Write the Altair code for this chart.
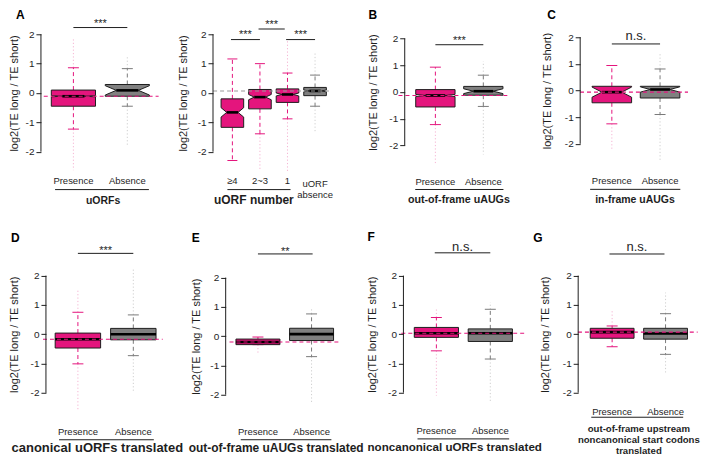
import altair as alt
import pandas as pd

FONT = "Liberation Sans"
PINK = "#E4157D"
GRAY = "#808080"
INK = "#1E1E1E"

# ----------------------------- data -----------------------------
panel_ids = ["A1", "A2", "B", "C", "D", "E", "F", "G"]
panel_letter = ["A", "", "B", "C", "D", "E", "F", "G"]
group_titles = ["uORFs", "uORF number", "out-of-frame uAUGs", "in-frame uAUGs",
                "canonical uORFs translated", "out-of-frame uAUGs translated",
                "noncanonical uORFs translated",
                "out-of-frame upstream\nnoncanonical start codons\ntranslated"]
labels_presence_absence = ["Presence", "Absence"]
labels_uorf_number = ["\u22654", "2~3", "1", "uORF\nabsence"]
ref_line_y = [-0.11, 0.07, -0.13, -0.06, -0.17, -0.20, 0.03, 0.07]

box_panel = ["A1", "A1", "A2", "A2", "A2", "A2", "B", "B", "C", "C",
             "D", "D", "E", "E", "F", "F", "G", "G"]
box_pos = [1, 2, 1, 2, 3, 4, 1, 2, 1, 2, 1, 2, 1, 2, 1, 2, 1, 2]
box_kind = ["presence", "absence", "presence", "presence", "presence", "absence",
            "presence", "absence", "presence", "absence", "presence", "absence",
            "presence", "absence", "presence", "absence", "presence", "absence"]
box_q1 = [-0.45, -0.11, -1.17, -0.54, -0.32, -0.09, -0.56, -0.12, -0.46, -0.28,
          -0.47, -0.19, -0.29, -0.15, -0.11, -0.25, -0.14, -0.17]
box_med = [-0.11, 0.09, -0.66, -0.14, -0.05, 0.07, -0.13, 0.03, -0.06, 0.04,
           -0.17, 0.00, -0.20, 0.07, 0.03, 0.03, 0.07, 0.02]
box_q3 = [0.10, 0.29, -0.20, 0.12, 0.14, 0.19, 0.09, 0.21, 0.16, 0.16,
          0.04, 0.20, -0.10, 0.27, 0.23, 0.18, 0.20, 0.20]
whisker_lo = [-1.23, -0.45, -2.30, -1.39, -0.88, -0.45, -1.22, -0.54, -1.25, -0.90,
              -1.01, -0.73, -0.29, -0.70, -0.57, -0.85, -0.43, -0.69]
whisker_hi = [0.86, 0.83, 1.16, 1.00, 0.68, 0.61, 0.93, 0.63, 0.94, 0.81,
              0.75, 0.66, -0.03, 0.76, 0.57, 0.85, 0.28, 0.70]
outlier_lo = [-2.63, -1.80, -2.30, -2.66, -2.66, -1.30, -2.66, -2.34, -2.27, -2.65,
              -2.60, -1.95, -0.60, -2.30, -2.10, -2.30, -0.43, -1.31]
outlier_hi = [1.85, 1.25, 1.16, 1.00, 1.82, 1.42, 0.93, 1.15, 0.94, 1.41,
              1.49, 2.22, -0.03, 0.99, 0.89, 1.09, 0.85, 1.42]
box_notch = [0.02, 0.16, 0.16, 0.09, 0.05, 0.03, 0.04, 0.09, 0.19, 0.10,
             0, 0, 0, 0, 0, 0, 0, 0]

sig_panel = ["A1", "A2", "A2", "A2", "B", "C", "D", "E", "F", "G"]
sig_from = [1.0, 0.95, 1.95, 2.95, 1.0, 1.0, 1.0, 1.0, 0.97, 0.95]
sig_to = [2.0, 2.0, 2.9, 4.0, 2.0, 2.0, 2.0, 2.02, 2.0, 1.98]
sig_label = ["***", "***", "***", "***", "***", "n.s.", "***", "**", "n.s.", "n.s."]

# ----------------------------- layout / style -----------------------------
ROW_TOP = [3, 233]
ROW_H = [222, 224]
BOX_HW = 0.41
KIND_FILL = {"presence": PINK, "absence": GRAY}
KIND_LINE = {"presence": PINK, "absence": "#7A7A7A"}
KIND_OUT = {"presence": "#F29CC4", "absence": "#BEBEBE"}

LAYOUT = {
    "A1": dict(row=0, left=3, w=167, c1=67.5, ux=54.0, axis=35.0, r2=28.0, uy=29.4, title_dx=26, cap=11,
               lab_y=-3.0, line_y=-3.29, line_x=(0.66, 2.40), title_y=-3.68, title_x=1.55, title_size=10.5,
               sig_y=[2.23], star_y=[2.34], letter_xy=(-0.065, 2.81), ref_x=(0.45, 2.58), ref_color=PINK),
    "A2": dict(row=0, left=170, w=180, c1=226.7, ux=27.6, axis=207.3, r2=28.0, uy=29.4, title_dx=30, cap=10,
               lab_y=-3.01, line_y=-3.29, line_x=(0.82, 3.11), title_y=-3.66, title_x=1.78, title_size=12,
               sig_y=[1.82, 2.18, 1.82], star_y=[1.96, 2.31, 1.96], letter_xy=None, ref_x=(0.3, 4.55),
               ref_color="#9A9A9A", lab4_y=-3.10),
    "B": dict(row=0, left=350, w=178, c1=430.0, ux=48.0, axis=399.3, r2=32.3, uy=26.75, title_dx=31, cap=11,
              lab_y=-3.36, line_y=-3.65, line_x=(0.58, 2.42), title_y=-4.06, title_x=1.49, title_size=10.7,
              sig_y=[1.77], star_y=[1.91], letter_xy=(-0.396, 3.08), ref_x=(0.23, 2.52), ref_color=PINK),
    "C": dict(row=0, left=528, w=168, c1=606.7, ux=48.3, axis=575.0, r2=31.0, uy=26.67, title_dx=32.5, cap=11,
              lab_y=-3.4, line_y=-3.71, line_x=(0.55, 2.42), title_y=-4.115, title_x=1.48, title_size=10.5,
              sig_y=[1.75], star_y=[2.04], letter_xy=(-0.34, 3.01), ref_x=(0.34, 2.58), ref_color=PINK),
    "D": dict(row=1, left=3, w=177, c1=72.0, ux=55.5, axis=40.0, r2=276.7, uy=29.35, title_dx=31, cap=11,
              lab_y=-3.34, line_y=-3.6, line_x=(0.66, 2.37), title_y=-3.89, title_x=1.35, title_size=13,
              sig_y=[2.76], star_y=[2.84], letter_xy=(-0.207, 3.465), ref_x=(0.37, 2.53), ref_color=PINK),
    "E": dict(row=1, left=181, w=179, c1=253.3, ux=53.7, axis=221.0, r2=278.7, uy=29.3, title_dx=29, cap=11,
              lab_y=-3.28, line_y=-3.54, line_x=(0.68, 2.37), title_y=-3.83, title_x=1.34, title_size=12,
              sig_y=[2.81], star_y=[2.88], letter_xy=(-0.235, 3.52), ref_x=(0.47, 2.52), ref_color=PINK),
    "F": dict(row=1, left=362, w=168, c1=434.0, ux=54.0, axis=401.0, r2=276.7, uy=29.3, title_dx=30.5, cap=11,
              lab_y=-3.32, line_y=-3.58, line_x=(0.65, 2.35), title_y=-3.89, title_x=1.34, title_size=11.6,
              sig_y=[2.78], star_y=[2.99], letter_xy=(-0.278, 3.48), ref_x=(0.35, 2.65), ref_color=PINK),
    "G": dict(row=1, left=534, w=169, c1=614.0, ux=53.5, axis=580.0, r2=276.7, uy=29.3, title_dx=32.5, cap=11,
              lab_y=-2.65, line_y=-2.84, line_x=(0.61, 2.33), title_y=-3.23, title_x=1.50, title_size=9.6,
              sig_y=[2.74], star_y=[2.99], letter_xy=(-0.477, 3.44), ref_x=(0.36, 2.6), ref_color=PINK),
}


def build_panel(pid):
    L = LAYOUT[pid]
    pi = panel_ids.index(pid)
    row = L["row"]
    W, H = L["w"], ROW_H[row]
    ux, uy = L["ux"], L["uy"]
    xmin = 1 - (L["c1"] - L["left"]) / ux
    xmax = xmin + W / ux
    vmax = 2 + (L["r2"] - ROW_TOP[row]) / uy
    vmin = vmax - H / uy
    axis_px = L["axis"] - L["left"]
    axis_x = xmin + axis_px / ux

    xs = alt.Scale(domain=[xmin, xmax], nice=False, zero=False)
    ys = alt.Scale(domain=[vmin, vmax], nice=False, zero=False)
    yaxis = alt.Axis(
        values=[-2, -1, 0, 1, 2], domain=False, grid=False, ticks=True, tickSize=5,
        tickColor=INK, tickWidth=1, labelFont=FONT, labelFontSize=10, labelColor=INK,
        labelPadding=2, labelExpr="datum.value + ''", labelFlush=False, labelOverlap=False,
        title="log2(TE long / TE short)", titleFont=FONT, titleFontSize=11,
        titleFontWeight="normal", titleColor=INK, titleX=-L["title_dx"], titleY=vmax * uy,
        titleAngle=270, titleAlign="center", titleBaseline="middle", offset=-axis_px,
    )

    def X(f):
        return alt.X(f"{f}:Q", scale=xs, axis=None)

    def Y(f):
        return alt.Y(f"{f}:Q", scale=ys, axis=yaxis)

    idx = [i for i, p in enumerate(box_panel) if p == pid]

    outl, whisk, caps, poly, meds = [], [], [], [], []
    for i in idx:
        x = box_pos[i]
        k = box_kind[i]
        outl.append(dict(x=x, y=whisker_hi[i], y2=outlier_hi[i], col=KIND_OUT[k]))
        outl.append(dict(x=x, y=whisker_lo[i], y2=outlier_lo[i], col=KIND_OUT[k]))
        whisk.append(dict(x=x, y=box_q3[i], y2=whisker_hi[i], col=KIND_LINE[k]))
        whisk.append(dict(x=x, y=box_q1[i], y2=whisker_lo[i], col=KIND_LINE[k]))
        caps.append(dict(x=x, y=whisker_hi[i], col=KIND_LINE[k]))
        caps.append(dict(x=x, y=whisker_lo[i], col=KIND_LINE[k]))
        n = box_notch[i]
        m = box_med[i]
        if n > 0:
            pts = [(box_q1[i], BOX_HW), (m - n, BOX_HW), (m, BOX_HW / 2),
                   (m + n, BOX_HW), (box_q3[i], BOX_HW)]
            mhw = BOX_HW / 2
        else:
            pts = [(box_q1[i], BOX_HW), (box_q3[i], BOX_HW)]
            mhw = BOX_HW
        for yv, hw in pts:
            poly.append(dict(id=str(i), y=yv, x=x - hw, x2=x + hw, col=KIND_FILL[k]))
        meds.append(dict(x=x - mhw, x2=x + mhw, y=m))

    layers = []
    layers.append(
        alt.Chart(pd.DataFrame(outl)).mark_rule(strokeWidth=1, strokeDash=[1.2, 2.2], opacity=0.75)
        .encode(x=X("x"), y=Y("y"), y2=alt.Y2("y2"), color=alt.Color("col:N", scale=None))
    )
    layers.append(
        alt.Chart(pd.DataFrame(whisk)).mark_rule(strokeWidth=1, strokeDash=[4, 3])
        .encode(x=X("x"), y=Y("y"), y2=alt.Y2("y2"), color=alt.Color("col:N", scale=None))
    )
    layers.append(
        alt.Chart(pd.DataFrame(caps)).mark_tick(orient="horizontal", size=L["cap"], thickness=1, opacity=1)
        .encode(x=X("x"), y=Y("y"), color=alt.Color("col:N", scale=None))
    )
    layers.append(
        alt.Chart(pd.DataFrame(poly)).mark_area(orient="horizontal", stroke=INK, strokeWidth=1,
                                                 opacity=1, interpolate="linear")
        .encode(x=alt.X("x:Q", scale=xs, axis=None, stack=None), x2=alt.X2("x2"), y=Y("y"),
                detail="id:N", fill=alt.Fill("col:N", scale=None))
    )
    layers.append(
        alt.Chart(pd.DataFrame(meds)).mark_rule(strokeWidth=2.6, color="#000000", strokeCap="butt")
        .encode(x=X("x"), x2=alt.X2("x2"), y=Y("y"))
    )
    ref_df = pd.DataFrame([dict(x=L["ref_x"][0], x2=L["ref_x"][1], y=ref_line_y[pi])])
    layers.append(
        alt.Chart(ref_df).mark_rule(strokeWidth=1.1, strokeDash=[4, 3], color=L["ref_color"])
        .encode(x=X("x"), x2=alt.X2("x2"), y=Y("y"))
    )
    axis_df = pd.DataFrame([dict(x=axis_x, y=-2, y2=2)])
    layers.append(
        alt.Chart(axis_df).mark_rule(strokeWidth=1, color=INK)
        .encode(x=X("x"), y=Y("y"), y2=alt.Y2("y2"))
    )

    # significance bars
    sidx = [i for i, p in enumerate(sig_panel) if p == pid]
    sbar = [dict(x=sig_from[i], x2=sig_to[i], y=L["sig_y"][j]) for j, i in enumerate(sidx)]
    stxt = [dict(x=(sig_from[i] + sig_to[i]) / 2, y=L["star_y"][j], t=sig_label[i],
                 fs=11 if sig_label[i].startswith("*") else 13) for j, i in enumerate(sidx)]
    layers.append(
        alt.Chart(pd.DataFrame(sbar)).mark_rule(strokeWidth=1, color=INK)
        .encode(x=X("x"), x2=alt.X2("x2"), y=Y("y"))
    )
    layers.append(
        alt.Chart(pd.DataFrame(stxt)).mark_text(font=FONT, color=INK, align="center", baseline="middle")
        .encode(x=X("x"), y=Y("y"), text="t:N", size=alt.Size("fs:Q", scale=None))
    )

    # category labels
    labs = labels_uorf_number if pid == "A2" else labels_presence_absence
    lab_rows = []
    for j, t in enumerate(labs):
        yv = L["lab_y"]
        if "\n" in t:
            yv = L.get("lab4_y", yv)
        lab_rows.append(dict(x=j + 1, y=yv, t=t))
    layers.append(
        alt.Chart(pd.DataFrame(lab_rows)).mark_text(font=FONT, fontSize=9.5, color=INK, align="center",
                                                    baseline="middle", lineBreak="\n", lineHeight=11)
        .encode(x=X("x"), y=Y("y"), text="t:N")
    )
    gl_df = pd.DataFrame([dict(x=L["line_x"][0], x2=L["line_x"][1], y=L["line_y"])])
    layers.append(
        alt.Chart(gl_df).mark_rule(strokeWidth=1, color=INK)
        .encode(x=X("x"), x2=alt.X2("x2"), y=Y("y"))
    )
    gt_df = pd.DataFrame([dict(x=L["title_x"], y=L["title_y"], t=group_titles[pi])])
    layers.append(
        alt.Chart(gt_df).mark_text(font=FONT, fontSize=L["title_size"], fontWeight="bold", color=INK,
                                   align="center", baseline="middle", lineBreak="\n", lineHeight=11)
        .encode(x=X("x"), y=Y("y"), text="t:N")
    )
    if L["letter_xy"] is not None:
        lt_df = pd.DataFrame([dict(x=L["letter_xy"][0], y=L["letter_xy"][1], t=panel_letter[pi])])
        layers.append(
            alt.Chart(lt_df).mark_text(font=FONT, fontSize=12, fontWeight="bold", color="#000000",
                                       align="left", baseline="top")
            .encode(x=X("x"), y=Y("y"), text="t:N")
        )

    return alt.layer(*layers).properties(width=W, height=H)


top = alt.hconcat(*[build_panel(p) for p in ["A1", "A2", "B", "C"]], spacing=0, bounds="flush")
bottom = alt.hconcat(*[build_panel(p) for p in ["D", "E", "F", "G"]], spacing=0, bounds="flush")
chart = (
    alt.vconcat(top, bottom, spacing=0)
    .properties(padding=0)
    .configure_view(strokeWidth=0)
)

chart.save("out.html", embed_options={"renderer": "svg", "actions": False})
